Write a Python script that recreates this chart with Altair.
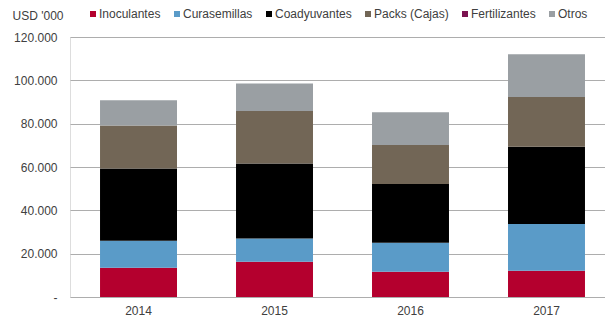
import altair as alt
import pandas as pd

years = ["2014", "2015", "2016", "2017"]
series = ["Inoculantes", "Curasemillas", "Coadyuvantes", "Packs (Cajas)", "Fertilizantes", "Otros"]
colors = ["#B4002E", "#5A9BC8", "#000000", "#726656", "#7B1250", "#9A9FA3"]

inoculantes = [13500, 16300, 11700, 12150]
curasemillas = [12450, 10750, 13350, 21500]
coadyuvantes = [33350, 34600, 27050, 35650]
packs = [19850, 24250, 18000, 23050]
fertilizantes = [0, 0, 0, 0]
otros = [11650, 12600, 15200, 19650]

values = [inoculantes, curasemillas, coadyuvantes, packs, fertilizantes, otros]
y_ticks = [0, 20000, 40000, 60000, 80000, 100000, 120000]

rows = []
for si, (name, vals) in enumerate(zip(series, values)):
    for yr, v in zip(years, vals):
        rows.append({"Año": yr, "Serie": name, "Valor": v, "idx": si})
df = pd.DataFrame(rows)

FONT = "Liberation Sans"
TXT = "#404040"

chart = alt.Chart(df).mark_bar().encode(
    x=alt.X(
        "Año:N",
        sort=years,
        scale=alt.Scale(domain=years, paddingInner=0.434, paddingOuter=0.184, align=0.6),
        axis=alt.Axis(
            title=None, labelAngle=0, domain=False, ticks=False, tickSize=0,
            labelPadding=8, labelFont=FONT, labelFontSize=12, labelColor=TXT,
        ),
    ),
    y=alt.Y(
        "Valor:Q",
        stack="zero",
        scale=alt.Scale(domain=[0, 120000], nice=False),
        axis=alt.Axis(
            values=y_ticks,
            title="USD '000", titleAngle=0, titleAlign="left", titleBaseline="middle",
            titleX=-58, titleY=-22, titleFont=FONT, titleFontSize=12,
            titleFontWeight="normal", titleColor=TXT,
            domain=False, ticks=False, tickSize=0, labelPadding=13,
            labelFont=FONT, labelFontSize=12, labelColor=TXT,
            labelExpr="datum.value == 0 ? '-\u00a0\u00a0' : replace(format(datum.value, ','), ',', '.')",
            grid=True, gridColor="#ADADAD", gridWidth=1,
        ),
    ),
    color=alt.Color(
        "Serie:N",
        scale=alt.Scale(domain=series, range=colors),
        legend=alt.Legend(
            title=None, orient="none", legendX=17, legendY=-29, direction="horizontal",
            columns=6, symbolType="square", symbolSize=36, symbolStrokeWidth=0,
            labelFont=FONT, labelFontSize=12, labelColor=TXT, labelOffset=0,
            columnPadding=10, padding=0,
        ),
    ),
    order=alt.Order("idx:Q", sort="ascending"),
).properties(
    width=535,
    height=260,
    autosize=alt.AutoSizeParams(type="none"),
    padding={"left": 70, "top": 37, "right": 0, "bottom": 24},
).configure_view(stroke=None).configure(background="white")

chart.save("out.html", embed_options={"renderer": "svg", "actions": False})
